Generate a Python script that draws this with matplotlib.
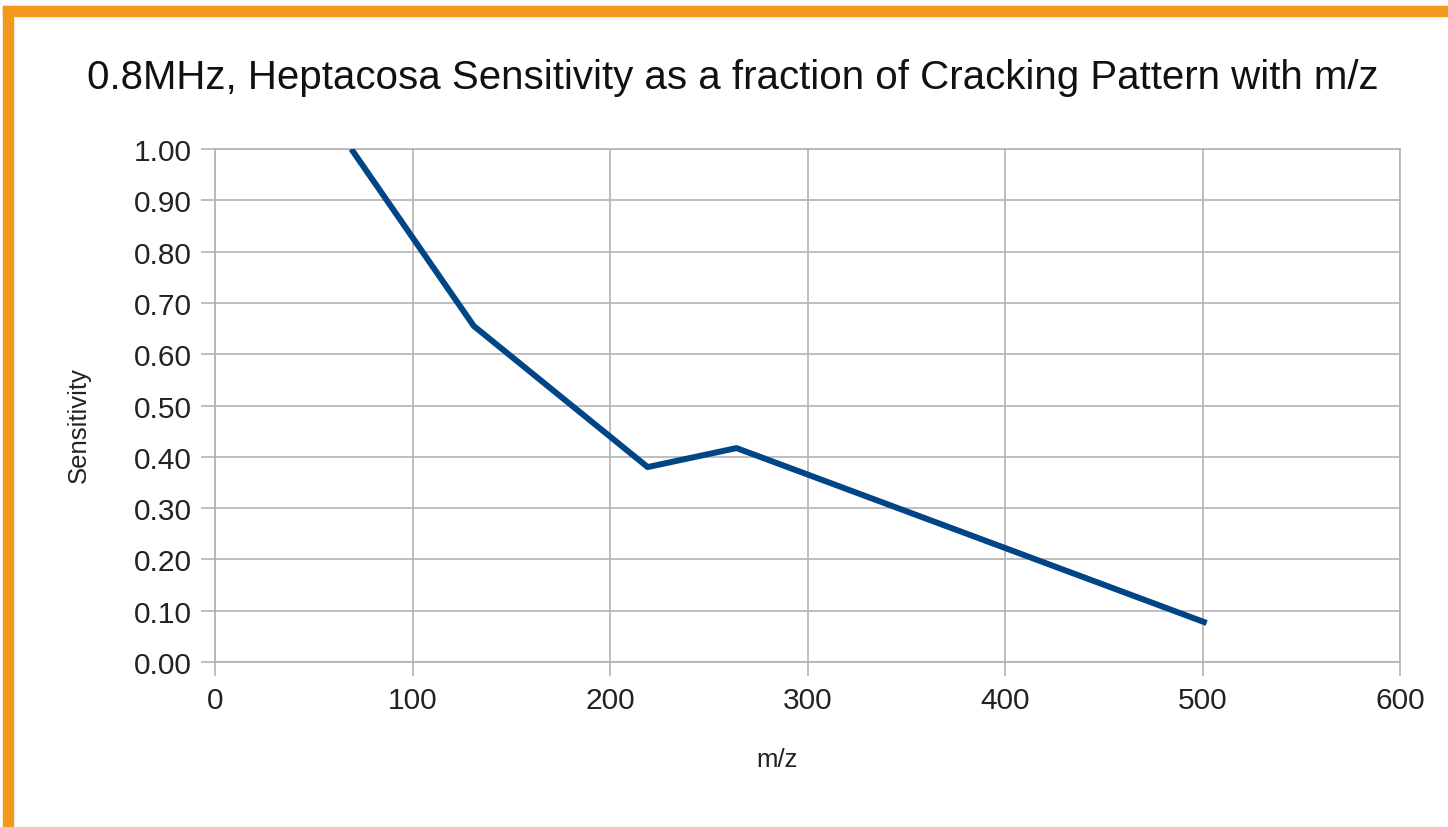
import matplotlib
matplotlib.use("Agg")
import matplotlib.pyplot as plt
from matplotlib.patches import Rectangle

mz = [69, 131, 219, 264, 502]
sensitivity = [1.00, 0.655, 0.380, 0.417, 0.076]
xticks = [0, 100, 200, 300, 400, 500, 600]
yticks = [0.0, 0.1, 0.2, 0.3, 0.4, 0.5, 0.6, 0.7, 0.8, 0.9, 1.0]

plt.rcParams['font.family'] = ['Liberation Sans', 'DejaVu Sans']

fig = plt.figure(figsize=(14.48, 8.28), dpi=100)
fig.patch.set_facecolor('white')

# orange frame along the top and left edge
fig.patches.append(Rectangle((0.002, 0.979), 0.998, 0.012, transform=fig.transFigure,
                             color='#f39a1e', zorder=0))
fig.patches.append(Rectangle((0.002, 0.0), 0.007, 0.991, transform=fig.transFigure,
                             color='#f39a1e', zorder=0))

ax = fig.add_axes([0.1485, 0.1993, 0.8185, 0.6195])
ax.plot(mz, sensitivity, color='#004586', linewidth=4.3, solid_capstyle='butt', zorder=3)

ax.set_xlim(0, 600)
ax.set_ylim(0, 1.0)
ax.set_xticks(xticks)
ax.set_yticks(yticks)
ax.set_yticklabels([f"{v:.2f}" for v in yticks])
ax.grid(True, color='#b3b3b3', linewidth=1.2)
ax.set_axisbelow(True)
for s in ax.spines.values():
    s.set_color('#b3b3b3')
    s.set_linewidth(1.2)
ax.tick_params(direction='out', length=10, width=1.2, color='#b3b3b3',
               labelsize=21.5, labelcolor='#222222', pad=7)

ax.set_xlabel('m/z', fontsize=18.5, color='#222222')
ax.xaxis.set_label_coords(0.474, -0.166)
ax.set_ylabel('Sensitivity', fontsize=18.5, color='#222222')
ax.yaxis.set_label_coords(-0.105, 0.464)
fig.text(0.506, 0.906, '0.8MHz, Heptacosa Sensitivity as a fraction of Cracking Pattern with m/z',
         ha='center', va='center', fontsize=29, color='#111111')

fig.savefig('out.png', dpi=100)
